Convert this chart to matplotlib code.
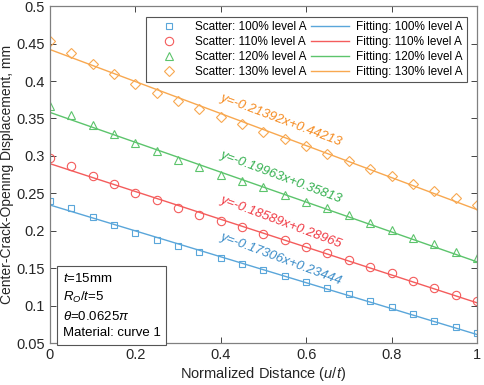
import numpy as np
import matplotlib.pyplot as plt

plt.rcParams.update({'font.family': "sans-serif",
                     'font.sans-serif': ["Liberation Sans", "DejaVu Sans"],
                     'mathtext.fontset': "custom",
                     'mathtext.it': "Liberation Sans:italic",
                     'mathtext.rm': "Liberation Sans",
                     'font.size': 10.5})

# Data input
x = np.array([0.0, 0.05, 0.1, 0.15, 0.2, 0.25, 0.3, 0.35, 0.4, 0.45, 0.5,
              0.55, 0.6, 0.65, 0.7, 0.75, 0.8, 0.85, 0.9, 0.95, 1.0])

cod_100 = [0.240, 0.230, 0.218, 0.208, 0.197, 0.188, 0.179, 0.171, 0.163, 0.155, 0.148,
           0.140, 0.132, 0.124, 0.115, 0.106, 0.098, 0.089, 0.080, 0.071, 0.063]
cod_110 = [0.297, 0.286, 0.273, 0.262, 0.250, 0.241, 0.231, 0.221, 0.213, 0.205, 0.196,
           0.187, 0.178, 0.170, 0.161, 0.152, 0.143, 0.133, 0.124, 0.114, 0.106]
cod_120 = [0.367, 0.354, 0.341, 0.329, 0.317, 0.306, 0.295, 0.285, 0.275, 0.266, 0.258,
           0.248, 0.238, 0.230, 0.221, 0.211, 0.201, 0.190, 0.182, 0.172, 0.163]
cod_130 = [0.453, 0.438, 0.423, 0.410, 0.396, 0.384, 0.373, 0.362, 0.352, 0.342, 0.332,
           0.322, 0.313, 0.302, 0.293, 0.283, 0.273, 0.263, 0.253, 0.244, 0.234]

slopes = [-0.17306, -0.18589, -0.19963, -0.21392]
intercepts = [0.23444, 0.28965, 0.35813, 0.44213]
levels = ["100%", "110%", "120%", "130%"]

# Plot settings
markers = ["s", "o", "^", "D"]
marker_sizes = [4.2, 6.0, 6.0, 5.0]
colors = ["#5aa6da", "#f45c5c", "#5cc46c", "#f8a850"]
text_colors = ["#3a8cc8", "#f03a44", "#33b04f", "#f58a1f"]

#-------------------------------------------------------------
fig = plt.figure(figsize=(4.84, 3.85), dpi=100)
ax = fig.add_axes([0.103, 0.109, 0.8825, 0.875])

series = [cod_100, cod_110, cod_120, cod_130]
scatter_handles = []
fit_handles = []
x_fit = np.linspace(0, 1, 50)
for i, (cod, level) in enumerate(zip(series, levels)):
    h = ax.plot(x, cod, linestyle="none", marker=markers[i], ms=marker_sizes[i],
                mfc="none", mec=colors[i], mew=0.8,
                label=f"Scatter: {level} level A")[0]
    scatter_handles.append(h)
for i, level in enumerate(levels):
    h = ax.plot(x_fit, slopes[i] * x_fit + intercepts[i], color=colors[i], lw=1.0,
                label=f"Fitting: {level} level A")[0]
    fit_handles.append(h)

# Fitting equations, placed above each line
for i in range(4):
    xt = 0.541
    yt = slopes[i] * xt + intercepts[i] + 0.022
    ax.text(xt, yt, f"y={slopes[i]:.5f}x+{intercepts[i]:.5f}", color=text_colors[i],
            fontsize=9.5, style="italic", rotation=-20.6, rotation_mode="anchor",
            ha="center", va="center")

ax.set_xlim(0, 1)
ax.set_ylim(0.05, 0.5)
ax.set_xticks(np.arange(0, 1.01, 0.2))
ax.set_xticklabels(["0", "0.2", "0.4", "0.6", "0.8", "1"])
ax.set_yticks(np.arange(0.05, 0.501, 0.05))
ax.set_yticklabels(["0.05", "0.1", "0.15", "0.2", "0.25", "0.3", "0.35", "0.4", "0.45", "0.5"])
ax.tick_params(direction="in", top=True, right=True, length=4, width=0.6,
               colors="#262626", labelsize=10.5)
for sp in ax.spines.values():
    sp.set_color("#808080")
    sp.set_linewidth(0.9)

ax.set_xlabel(r"Normalized Distance ($u$/$t$)", color="#262626", labelpad=2)
ax.set_ylabel("Center-Crack-Opening Displacement, mm", color="#262626",
              fontsize=10, labelpad=2)

leg = ax.legend(scatter_handles + fit_handles,
                [h.get_label() for h in scatter_handles + fit_handles],
                ncol=2, loc="upper right", bbox_to_anchor=(0.99, 0.985),
                fontsize=8.5, fancybox=False, framealpha=1, edgecolor="#555555",
                handlelength=3.2, columnspacing=0.4, handletextpad=0.6,
                labelspacing=0.25, borderpad=0.35)
leg.get_frame().set_linewidth(0.8)

ax.text(0.03, 0.012, "$t$=15mm\n$R_O$/$t$=5\n$\\theta$=0.0625$\\pi$\nMaterial: curve 1",
        transform=ax.transAxes, fontsize=9.5, va="bottom", ha="left", linespacing=1.45,
        bbox=dict(boxstyle="square,pad=0.45", fc="white", ec="#555555", lw=0.8))

fig.savefig("out.png", dpi=100)
